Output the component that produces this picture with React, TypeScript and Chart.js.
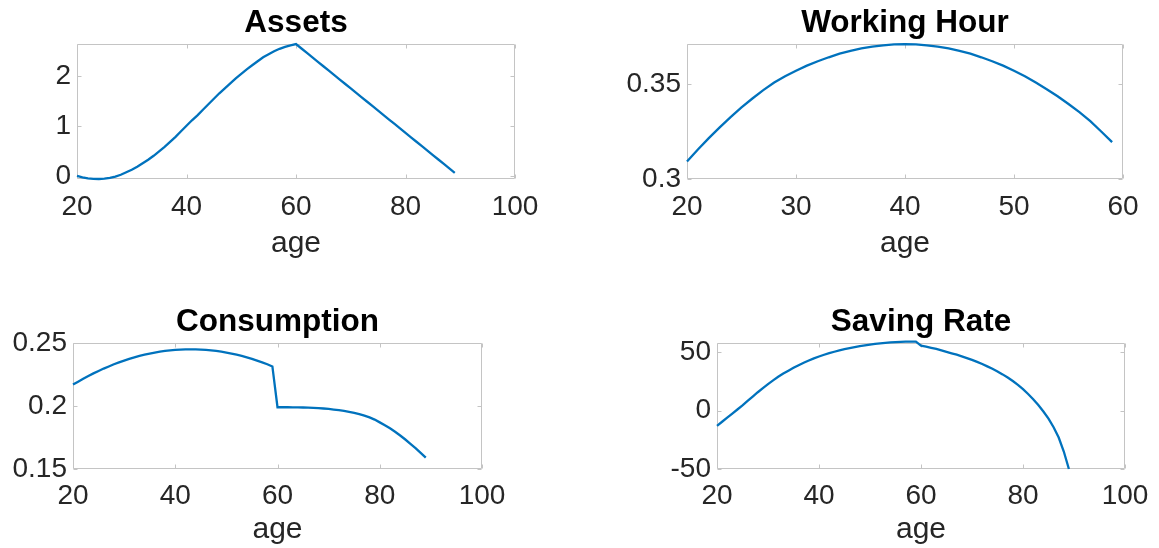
import React, { useEffect, useRef } from "react";
import { Chart, registerables } from "chart.js";

Chart.register(...registerables);

const W = 1159;
const H = 548;

// ---------- data ----------
const agesLife = [
  20, 21, 22, 23, 24, 25, 26, 27, 28, 29, 30, 31, 32, 33, 34, 35, 36, 37, 38, 39,
  40, 41, 42, 43, 44, 45, 46, 47, 48, 49, 50, 51, 52, 53, 54, 55, 56, 57, 58, 59,
  60, 61, 62, 63, 64, 65, 66, 67, 68, 69, 70, 71, 72, 73, 74, 75, 76, 77, 78, 79,
  80, 81, 82, 83, 84, 85, 86, 87, 88, 89,
];
const agesWork = [
  20, 21, 22, 23, 24, 25, 26, 27, 28, 29, 30, 31, 32, 33, 34, 35, 36, 37, 38, 39,
  40, 41, 42, 43, 44, 45, 46, 47, 48, 49, 50, 51, 52, 53, 54, 55, 56, 57, 58, 59,
];

const assets = [
  0.01, -0.02, -0.04, -0.05, -0.054, -0.048, -0.032, -0.008, 0.03, 0.08,
  0.13, 0.19, 0.26, 0.33, 0.41, 0.5, 0.59, 0.69, 0.79, 0.9,
  1.01, 1.12, 1.22, 1.33, 1.44, 1.55, 1.66, 1.76, 1.86, 1.96,
  2.05, 2.14, 2.22, 2.3, 2.38, 2.44, 2.5, 2.55, 2.59, 2.62,
  2.645, 2.556, 2.467, 2.379, 2.29, 2.201, 2.112, 2.023, 1.935, 1.846,
  1.757, 1.668, 1.579, 1.491, 1.402, 1.313, 1.224, 1.135, 1.047, 0.958,
  0.869, 0.78, 0.691, 0.603, 0.514, 0.425, 0.336, 0.247, 0.159, 0.07,
];

const hours = [
  0.3092, 0.3155, 0.3215, 0.3272, 0.3326, 0.3377, 0.3424, 0.3468, 0.3508, 0.3541,
  0.357, 0.3597, 0.362, 0.3641, 0.366, 0.3675, 0.3688, 0.3697, 0.3704, 0.3709,
  0.371, 0.3709, 0.3704, 0.3697, 0.3688, 0.3675, 0.366, 0.3641, 0.362, 0.3597,
  0.357, 0.3541, 0.3508, 0.3473, 0.3436, 0.3395, 0.3352, 0.3305, 0.325, 0.3194,
];

const consumption = [
  0.217, 0.2193, 0.2216, 0.2238, 0.2259, 0.2278, 0.2297, 0.2314, 0.2331, 0.2346,
  0.236, 0.2374, 0.2386, 0.2397, 0.2407, 0.2416, 0.2424, 0.2431, 0.2437, 0.2442,
  0.2445, 0.2448, 0.2449, 0.245, 0.2449, 0.2448, 0.2445, 0.2442, 0.2437, 0.2431,
  0.2424, 0.2416, 0.2407, 0.2397, 0.2386, 0.2374, 0.236, 0.2346, 0.2331, 0.2314,
  0.199, 0.199, 0.199, 0.1989, 0.1989, 0.1988, 0.1987, 0.1985, 0.1983, 0.198,
  0.1977, 0.1972, 0.1967, 0.1961, 0.1954, 0.1946, 0.1936, 0.1924, 0.191, 0.1892,
  0.187, 0.1848, 0.1823, 0.1796, 0.1766, 0.1734, 0.17, 0.1665, 0.1628, 0.159,
];

const savingRate = [
  -13, -9.5, -6, -2.5, 1, 4.5, 8.3, 12, 15.8, 19.3,
  22.8, 26, 29, 31.8, 34.3, 36.7, 39, 41.1, 43, 44.8,
  46.4, 47.9, 49.3, 50.5, 51.6, 52.7, 53.6, 54.5, 55.3, 56,
  56.6, 57.2, 57.7, 58.1, 58.5, 58.8, 59, 59.1, 59.2, 59.2,
  55.8, 54.9, 53.9, 52.9, 51.6, 50.4, 49.2, 48, 46.6, 45.1,
  43.5, 41.8, 40, 38, 35.9, 33.6, 31.1, 28.4, 25.4, 22.1,
  18.4, 14.3, 9.8, 4.8, -0.7, -6.8, -14.2, -23, -35, -50,
];

const assetsXTicks = [20, 40, 60, 80, 100];
const assetsYTicks = [0, 1, 2];
const hoursXTicks = [20, 30, 40, 50, 60];
const hoursYTicks = [0.3, 0.35];
const consXTicks = [20, 40, 60, 80, 100];
const consYTicks = [0.15, 0.2, 0.25];
const saveXTicks = [20, 40, 60, 80, 100];
const saveYTicks = [-50, 0, 50];

const xLabel = "age";

// ---------- panel configs (layout only) ----------
type Panel = {
  title: string;
  xs: number[];
  ys: number[];
  xMin: number;
  xMax: number;
  yMin: number;
  yMax: number;
  xTicks: number[];
  yTicks: number[];
  left: number;
  right: number;
  top: number;
  bottom: number;
  outerBottom: number;
  tickPad: number;
  labelPad: number;
};

const panels: Panel[] = [
  {
    title: "Assets", xs: agesLife, ys: assets,
    xMin: 20, xMax: 100, yMin: -0.054, yMax: 2.646,
    xTicks: assetsXTicks, yTicks: assetsYTicks,
    left: 77, right: 515, top: 44, bottom: 179, outerBottom: 280, tickPad: 11, labelPad: 6.4,
  },
  {
    title: "Working Hour", xs: agesWork, ys: hours,
    xMin: 20, xMax: 60, yMin: 0.3, yMax: 0.3711,
    xTicks: hoursXTicks, yTicks: hoursYTicks,
    left: 687, right: 1123, top: 44, bottom: 179, outerBottom: 280, tickPad: 11, labelPad: 6.4,
  },
  {
    title: "Consumption", xs: agesLife, ys: consumption,
    xMin: 20, xMax: 100, yMin: 0.15, yMax: 0.25,
    xTicks: consXTicks, yTicks: consYTicks,
    left: 73, right: 482, top: 343, bottom: 469, outerBottom: 0, tickPad: 10, labelPad: 0.4,
  },
  {
    title: "Saving Rate", xs: agesLife, ys: savingRate,
    xMin: 20, xMax: 100, yMin: -50, yMax: 58,
    xTicks: saveXTicks, yTicks: saveYTicks,
    left: 717, right: 1125, top: 343, bottom: 469, outerBottom: 0, tickPad: 10, labelPad: 0.4,
  },
];

const FONT = '"Liberation Sans", Arial, Helvetica, sans-serif';
const BOX = "#c4c4c4";
const TEXT = "#262626";
const LINE = "#0072BD";

const matlabPlugin = {
  id: "matlabBox",
  beforeDatasetsDraw(chart: any) {
    const { ctx, chartArea: a, scales } = chart;
    const l = Math.round(a.left) + 0.5;
    const r = Math.round(a.right) - 0.5;
    const t = Math.round(a.top) + 0.5;
    const b = Math.round(a.bottom) - 0.5;
    const tl = 4;
    ctx.save();
    ctx.strokeStyle = BOX;
    ctx.lineWidth = 1;
    ctx.beginPath();
    ctx.rect(l, t, r - l, b - t);
    scales.x.ticks.forEach((tk: any) => {
      const px = Math.round(scales.x.getPixelForValue(tk.value)) + 0.5;
      ctx.moveTo(px, b);
      ctx.lineTo(px, b - tl);
      ctx.moveTo(px, t);
      ctx.lineTo(px, t + tl);
    });
    scales.y.ticks.forEach((tk: any) => {
      const py = Math.round(scales.y.getPixelForValue(tk.value)) + 0.5;
      ctx.moveTo(l, py);
      ctx.lineTo(l + tl, py);
      ctx.moveTo(r, py);
      ctx.lineTo(r - tl, py);
    });
    ctx.stroke();
    ctx.restore();
  },
  afterDraw(chart: any, _args: any, opts: any) {
    const { ctx, chartArea: a } = chart;
    ctx.save();
    ctx.font = `bold 31.5px ${FONT}`;
    ctx.fillStyle = "#000000";
    ctx.textAlign = "center";
    ctx.textBaseline = "alphabetic";
    ctx.fillText(opts.text, (a.left + a.right) / 2, a.top - 12);
    ctx.restore();
  },
};

function PanelChart({ p }: { p: Panel }) {
  const ref = useRef<HTMLCanvasElement | null>(null);
  useEffect(() => {
    if (!ref.current) return;
    const points = p.xs.map((x, i) => ({ x, y: p.ys[i] }));
    const chart = new Chart(ref.current, {
      type: "line",
      data: {
        datasets: [
          {
            data: points,
            borderColor: LINE,
            borderWidth: 2.3,
            pointRadius: 0,
            tension: 0,
            fill: false,
            clip: 4,
          } as any,
        ],
      },
      options: {
        animation: false,
        responsive: false,
        devicePixelRatio: 1,
        events: [],
        layout: {
          padding: { left: 0, top: p.top, right: W - p.right, bottom: p.outerBottom },
        },
        plugins: {
          legend: { display: false },
          tooltip: { enabled: false },
          title: { display: false },
          matlabBox: { text: p.title },
        } as any,
        scales: {
          x: {
            type: "linear",
            position: "bottom",
            min: p.xMin,
            max: p.xMax,
            grid: { display: false, drawTicks: false, tickLength: 0 },
            border: { display: false },
            afterBuildTicks: (axis: any) => {
              axis.ticks = p.xTicks.map((v) => ({ value: v }));
            },
            afterFit: (axis: any) => {
              axis.height = H - p.outerBottom - p.bottom;
            },
            ticks: {
              autoSkip: false,
              maxRotation: 0,
              minRotation: 0,
              padding: p.tickPad,
              color: TEXT,
              font: { family: FONT, size: 28 },
              callback: (v: any) => String(v),
            },
            title: {
              display: true,
              text: xLabel,
              color: TEXT,
              font: { family: FONT, size: 30 },
              padding: { top: 0, bottom: p.labelPad },
            },
          },
          y: {
            type: "linear",
            position: "left",
            min: p.yMin,
            max: p.yMax,
            grid: { display: false, drawTicks: false, tickLength: 0 },
            border: { display: false },
            afterBuildTicks: (axis: any) => {
              axis.ticks = p.yTicks.map((v) => ({ value: v }));
            },
            afterFit: (axis: any) => {
              axis.width = p.left;
            },
            ticks: {
              autoSkip: false,
              padding: 6,
              color: TEXT,
              font: { family: FONT, size: 28 },
              callback: (v: any) => String(v),
            },
          },
        },
      } as any,
      plugins: [matlabPlugin as any],
    });
    return () => chart.destroy();
  }, [p]);
  return (
    <canvas
      ref={ref}
      width={W}
      height={H}
      style={{ position: "absolute", left: 0, top: 0, width: W, height: H }}
    />
  );
}

export default function App() {
  return (
    <div
      style={{
        position: "fixed",
        left: 0,
        top: 0,
        width: W,
        height: H,
        background: "#ffffff",
        overflow: "hidden",
      }}
    >
      {panels.map((p) => (
        <PanelChart key={p.title} p={p} />
      ))}
    </div>
  );
}
